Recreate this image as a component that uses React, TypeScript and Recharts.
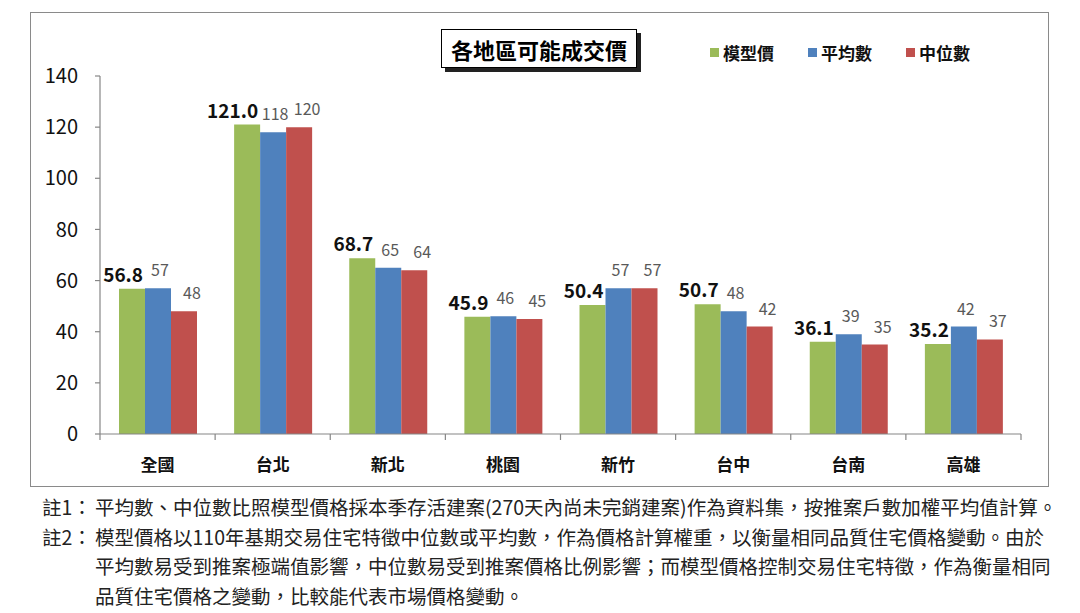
import { Bar, BarChart, XAxis, YAxis, LabelList } from "recharts";

const categories = ["全國", "台北", "新北", "桃園", "新竹", "台中", "台南", "高雄"];
const modelPrice = [56.8, 121.0, 68.7, 45.9, 50.4, 50.7, 36.1, 35.2];
const meanPrice = [57, 118, 65, 46, 57, 48, 39, 42];
const medianPrice = [48, 120, 64, 45, 57, 42, 35, 37];
const yTicks = [0, 20, 40, 60, 80, 100, 120, 140];

const seriesNames = ["模型價", "平均數", "中位數"];
const seriesColors = ["#9BBB59", "#4F81BD", "#C0504D"];

const notes = [
  {
    label: "註1：",
    lines: ["平均數、中位數比照模型價格採本季存活建案(270天內尚未完銷建案)作為資料集，按推案戶數加權平均值計算。"],
  },
  {
    label: "註2：",
    lines: [
      "模型價格以110年基期交易住宅特徵中位數或平均數，作為價格計算權重，以衡量相同品質住宅價格變動。由於",
      "平均數易受到推案極端值影響，中位數易受到推案價格比例影響；而模型價格控制交易住宅特徵，作為衡量相同",
      "品質住宅價格之變動，比較能代表市場價格變動。",
    ],
  },
];

const data = categories.map((name, i) => ({
  name,
  model: modelPrice[i],
  mean: meanPrice[i],
  median: medianPrice[i],
}));

const FONT = '"Noto Sans CJK TC", "Noto Sans", sans-serif';
const AXIS = "#868686";

const PLOT_LEFT = 100;
const PLOT_RIGHT = 1021;
const BAND = (PLOT_RIGHT - PLOT_LEFT) / categories.length;

function CategoryTick(props: any) {
  const { x, y, payload, index } = props;
  const half = payload?.offset || BAND / 2;
  const last = index === categories.length - 1;
  return (
    <g>
      <line x1={x - half} x2={x - half} y1={y - 8} y2={y - 2} stroke={AXIS} strokeWidth={1.2} />
      {last && <line x1={x + half} x2={x + half} y1={y - 8} y2={y - 2} stroke={AXIS} strokeWidth={1.2} />}
      <text x={x} y={y + 29} textAnchor="middle" fontFamily={FONT} fontSize={17} fontWeight={700} fill="#111">
        {payload.value}
      </text>
    </g>
  );
}

// green labels sit right-aligned to their bar, the others are centred and nudged
function ModelLabel(props: any) {
  const { x, y, width, value } = props;
  return (
    <text
      x={x + width - 2}
      y={y - 7}
      textAnchor="end"
      fontFamily={FONT}
      fontSize={19}
      fontWeight={700}
      fill="#111"
    >
      {Number(value).toFixed(1)}
    </text>
  );
}

function makeLabel(dx: number, gap: number) {
  return (props: any) => {
    const { x, y, width, value } = props;
    return (
      <text x={x + width / 2 + dx} y={y - gap} textAnchor="middle" fontFamily={FONT} fontSize={16} fill="#595959">
        {value}
      </text>
    );
  };
}

export default function App() {
  return (
    <div style={{ position: "absolute", left: 0, top: 0, width: 1080, height: 613, background: "#fff", fontFamily: FONT }}>
      <div
        style={{
          position: "absolute",
          left: 30,
          top: 12,
          width: 1019,
          height: 475,
          border: "1.5px solid #8a8a8a",
          boxSizing: "border-box",
        }}
      />
      <div style={{ position: "absolute", left: 0, top: 0 }}>
        <BarChart
          width={1080}
          height={500}
          data={data}
          margin={{ top: 76, right: 1080 - PLOT_RIGHT, left: PLOT_LEFT - 60, bottom: 26 }}
          barGap={0}
          barSize={26}
        >
          <XAxis
            dataKey="name"
            height={40}
            axisLine={{ stroke: AXIS, strokeWidth: 1.2 }}
            tickLine={false}
            tick={<CategoryTick />}
            interval={0}
          />
          <YAxis
            width={60}
            domain={[0, 140]}
            ticks={yTicks}
            interval={0}
            axisLine={{ stroke: AXIS, strokeWidth: 1.2 }}
            tickLine={{ stroke: AXIS, strokeWidth: 1.2 }}
            tickSize={5}
            tickMargin={17}
            tick={{ fontSize: 20, fill: "#111", fontFamily: FONT }}
          />
          <Bar dataKey="model" name={seriesNames[0]} fill={seriesColors[0]} isAnimationActive={false}>
            <LabelList dataKey="model" content={ModelLabel} />
          </Bar>
          <Bar dataKey="mean" name={seriesNames[1]} fill={seriesColors[1]} isAnimationActive={false}>
            <LabelList dataKey="mean" content={makeLabel(2, 12)} />
          </Bar>
          <Bar dataKey="median" name={seriesNames[2]} fill={seriesColors[2]} isAnimationActive={false}>
            <LabelList dataKey="median" content={makeLabel(8, 12)} />
          </Bar>
        </BarChart>
      </div>

      <div
        style={{
          position: "absolute",
          left: 441,
          top: 29,
          width: 196,
          height: 39,
          border: "1.5px solid #000",
          boxSizing: "border-box",
          boxShadow: "4px 4px 0 #222",
          background: "#fff",
          display: "flex",
          alignItems: "center",
          justifyContent: "center",
          fontSize: 22,
          fontWeight: 700,
          color: "#000",
        }}
      >
        各地區可能成交價
      </div>

      {seriesNames.map((n, i) => (
        <div
          key={n}
          style={{
            position: "absolute",
            left: 710 + i * 98,
            top: 40,
            display: "flex",
            alignItems: "center",
            fontSize: 17,
            fontWeight: 700,
            color: "#111",
          }}
        >
          <span style={{ display: "inline-block", width: 9, height: 9, background: seriesColors[i], marginRight: 4 }} />
          {n}
        </div>
      ))}

      <div style={{ position: "absolute", left: 42, top: 492, fontSize: 19.5, color: "#222", lineHeight: "29.5px" }}>
        {notes.map((note) => (
          <div key={note.label} style={{ display: "flex" }}>
            <div style={{ width: 53, flexShrink: 0, whiteSpace: "nowrap" }}>{note.label}</div>
            <div>
              {note.lines.map((l, j) => (
                <div key={j} style={{ whiteSpace: "nowrap" }}>
                  {l}
                </div>
              ))}
            </div>
          </div>
        ))}
      </div>
    </div>
  );
}
